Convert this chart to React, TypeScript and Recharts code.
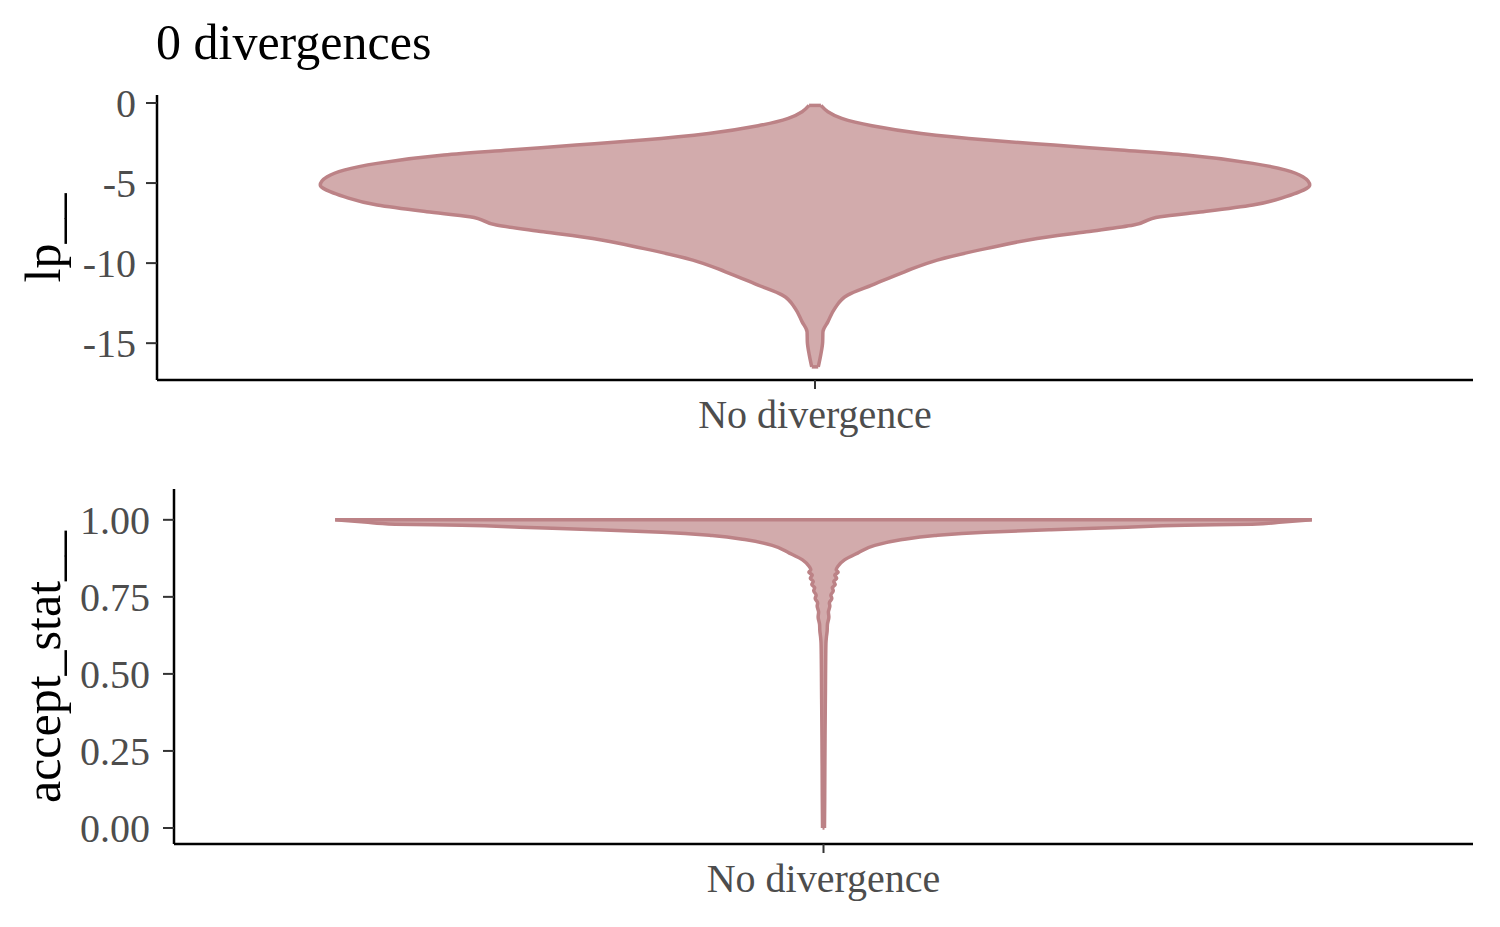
import React from 'react';
import { AreaChart, Area, XAxis, YAxis, ReferenceLine } from 'recharts';

const title = '0 divergences';
const categories = ['No divergence'];

// lp__ : value (top to bottom) and violin half-width (density scaled to max 1)
const lpValues = [
  -0.15, -0.54, -0.96, -1.42, -1.9, -2.31, -2.63, -2.94, -3.25, -3.77, -4.19, -4.6,
  -5.125, -5.54, -5.85, -6.375, -6.79, -7.1, -7.625, -8.04, -8.46, -9.08, -9.81,
  -10.54, -11.375, -12.0, -12.83, -13.67, -14.29, -14.92, -15.75, -16.48,
];
const lpDensity = [
  0.012, 0.026, 0.054, 0.115, 0.215, 0.348, 0.483, 0.618, 0.75, 0.885, 0.952, 0.986,
  1.0, 0.98, 0.952, 0.885, 0.785, 0.698, 0.644, 0.549, 0.449, 0.348, 0.247,
  0.181, 0.115, 0.066, 0.04, 0.026, 0.016, 0.0155, 0.0115, 0.0066,
];
const lpTicks = [-15, -10, -5, 0];

// accept_stat__
const acceptValues = [
  1.0, 0.993, 0.986, 0.982, 0.975, 0.968, 0.96, 0.949, 0.935, 0.917, 0.892, 0.87,
  0.848, 0.838, 0.83, 0.821, 0.81, 0.8, 0.79, 0.78, 0.77, 0.755, 0.745, 0.73, 0.72,
  0.7, 0.685, 0.66, 0.64, 0.62, 0.6, 0.55, 0.5, 0.45, 0.4, 0.3, 0.2, 0.1, 0.0,
];
const acceptDensity = [
  1.0, 0.94, 0.877, 0.741, 0.604, 0.466, 0.331, 0.228, 0.158, 0.105, 0.07, 0.043,
  0.029, 0.026, 0.03, 0.023, 0.027, 0.021, 0.024, 0.018, 0.02, 0.015, 0.017, 0.012, 0.013,
  0.01, 0.011, 0.008, 0.0075, 0.006, 0.005, 0.0045, 0.0042, 0.004, 0.0037, 0.0032, 0.0028, 0.0025, 0.002,
];
const acceptTicks = [0, 0.25, 0.5, 0.75, 1];

const FILL = '#D2ABAC';
const LINE = '#BC8286';
const SERIF = '"Liberation Serif", "Times New Roman", serif';

const toRows = (values: number[], density: number[]) =>
  values.map((v, i) => ({ v, w: [-density[i], density[i]] }));

type PanelProps = {
  top: number;
  height: number;
  plotTop: number;
  axisWidth: number;
  tickGap: number;
  values: number[];
  density: number[];
  domain: [number, number];
  ticks: number[];
  fmt: (v: number) => string;
  label: string;
};

const ViolinPanel = ({ top, height, plotTop, axisWidth, tickGap, values, density, domain, ticks, fmt, label }: PanelProps) => {
  const rows = toRows(values, density);
  const last = values.length - 1;
  const tickStyle = { fill: '#4D4D4D', fontSize: 40, fontFamily: SERIF };
  return (
    <div style={{ position: 'absolute', left: 0, top, width: 1500, height }}>
      <AreaChart
        width={1500}
        height={height}
        data={rows}
        layout="vertical"
        margin={{ top: plotTop, right: 27, bottom: 0, left: 0 }}
      >
        <XAxis
          type="number"
          domain={[-1.33, 1.33]}
          ticks={[0]}
          interval={0}
          tickFormatter={() => categories[0]}
          height={70}
          axisLine={{ stroke: '#000', strokeWidth: 2.5 }}
          tickLine={{ stroke: '#333', strokeWidth: 2 }}
          tickSize={9}
          tickMargin={11}
          tick={tickStyle}
        />
        <YAxis
          type="number"
          dataKey="v"
          domain={domain}
          reversed
          ticks={ticks}
          interval={0}
          tickFormatter={fmt}
          width={axisWidth}
          axisLine={{ stroke: '#000', strokeWidth: 2.5 }}
          tickLine={{ stroke: '#333', strokeWidth: 2 }}
          tickSize={11}
          tickMargin={tickGap}
          tick={tickStyle}
        />
        <Area
          dataKey="w"
          type="monotone"
          fill={FILL}
          fillOpacity={1}
          stroke={LINE}
          strokeWidth={3.5}
          isAnimationActive={false}
        />
        <ReferenceLine
          segment={[{ x: -density[0], y: values[0] }, { x: density[0], y: values[0] }]}
          stroke={LINE}
          strokeWidth={3.5}
        />
        <ReferenceLine
          segment={[{ x: -density[last], y: values[last] }, { x: density[last], y: values[last] }]}
          stroke={LINE}
          strokeWidth={3.5}
        />
      </AreaChart>
      <div
        style={{
          position: 'absolute',
          left: 43,
          top: plotTop + (height - plotTop - 70) / 2,
          width: 0,
          height: 0,
        }}
      >
        <span
          style={{
            position: 'absolute',
            left: 0,
            top: 0,
            transform: 'translate(-50%, -50%) rotate(-90deg)',
            whiteSpace: 'nowrap',
            fontFamily: SERIF,
            fontSize: 50,
            lineHeight: 1,
            color: '#000',
          }}
        >
          {label}
        </span>
      </div>
    </div>
  );
};

export default function App() {
  return (
    <div style={{ position: 'absolute', left: 0, top: 0, width: 1500, height: 927, background: '#fff' }}>
      <div
        style={{
          position: 'absolute',
          left: 156,
          top: 17,
          fontFamily: SERIF,
          fontSize: 50,
          lineHeight: 1,
          color: '#000',
          whiteSpace: 'nowrap',
        }}
      >
        {title}
      </div>
      <ViolinPanel
        top={0}
        height={450}
        plotTop={95}
        axisWidth={157}
        tickGap={10}
        values={lpValues}
        density={lpDensity}
        domain={[-17.3, 0.5]}
        ticks={lpTicks}
        fmt={(v) => String(v)}
        label="lp__"
      />
      <ViolinPanel
        top={440}
        height={474}
        plotTop={49}
        axisWidth={174}
        tickGap={13}
        values={acceptValues}
        density={acceptDensity}
        domain={[-0.052, 1.1]}
        ticks={acceptTicks}
        fmt={(v) => v.toFixed(2)}
        label="accept_stat__"
      />
    </div>
  );
}
